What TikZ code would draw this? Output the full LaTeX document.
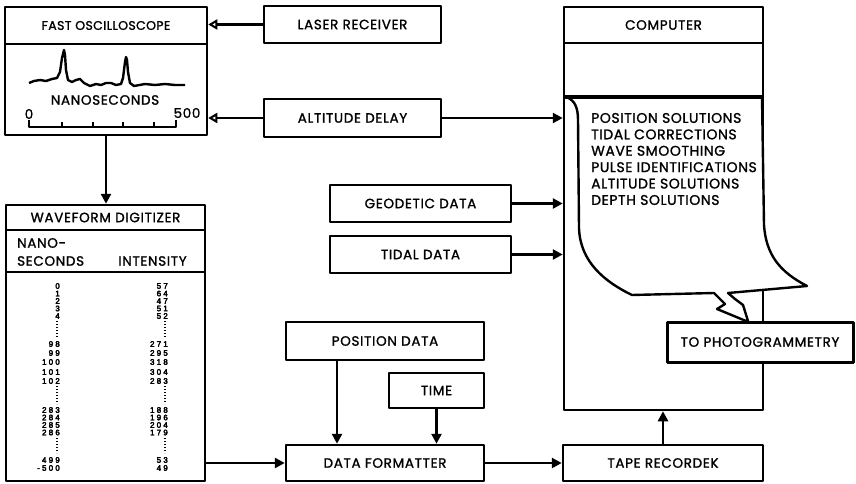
\documentclass[tikz,border=0pt]{standalone}
\usepackage{fontspec}
\setmainfont{Poppins}[FakeBold=1.3]
\newfontfamily\digfont{Liberation Sans}[FakeBold=4]
\newcommand\dd{\kern2.2pt}
\usetikzlibrary{arrows.meta}
\begin{document}
\begin{tikzpicture}[x=1pt,y=-1pt,line join=round,
  lblfont/.style={font=\fontsize{13.5}{16}\selectfont\addfontfeature{LetterSpace=5}},
  box/.style={draw,line width=2.5pt,fill=white,inner sep=0pt,lblfont},
  plain/.style={inner sep=0pt,lblfont},
  dig/.style={inner sep=0pt,anchor=east,font=\digfont\fontsize{8}{8}\selectfont},
  arr/.style={line width=2.6pt,-{Triangle[length=10pt,width=10pt]}},
  oarr/.style={line width=2.6pt,-{Triangle[open,length=9pt,width=10pt,line width=2pt]}},
  dotcol/.style={line width=2pt,dash pattern=on 1.2pt off 1.8pt}
]
\useasboundingbox (0,0) rectangle (856,484);

% oscilloscope
\node[box,minimum width=202pt,minimum height=37pt,font=\fontsize{12.5}{14}\selectfont\addfontfeature{LetterSpace=3}] (oschead) at (106,25.5) {FAST OSCILLOSCOPE};
\node[box,minimum width=202pt,minimum height=91pt] (oscbody) at (106,89.5) {};
\draw[line width=2.4pt] (29,83) -- (34,81) -- (40,80) -- (46,81) -- (52,79) -- (57,78) -- (60,72)
  -- (62,58) -- (64,50) -- (65,55) -- (66,70) -- (68,80) -- (72,82) -- (76,80) -- (80,79)
  -- (84,83) -- (90,86) -- (96,84) -- (101,85) -- (106,83) -- (111,83) -- (116,85) -- (121,84)
  -- (123,78) -- (125,62) -- (126,57) -- (127,60) -- (128,72) -- (130,83) -- (134,86)
  -- (145,84) -- (155,85) -- (165,84) -- (175,85) -- (185,85);
\node[plain] (nanolbl) at (105,100) {NANOSECONDS};
\node[plain] (zero) at (29,114) {0};
\node[plain] (fivehundred) at (187,113) {500};
\draw[line width=2.4pt] (29,120) -- (29,127) -- (176,127) -- (176,120);
\foreach \tx in {62,93,123,154} { \draw[line width=2.4pt] (\tx,127) -- (\tx,122); }

% laser receiver & altitude delay
\node[box,minimum width=177pt,minimum height=37pt] (laser) at (352.5,24.5) {LASER RECEIVER};
\node[box,minimum width=177pt,minimum height=38pt] (alt) at (352.5,118) {ALTITUDE DELAY};

% computer
\node[box,minimum width=199pt,minimum height=36pt] (comphead) at (663.5,25) {COMPUTER};
\node[box,minimum width=199pt,minimum height=367pt] (compbody) at (663.5,226.5) {};

% paper
\draw[line width=2.4pt,fill=white] (566,97) .. controls (575,100) and (578,108) .. (578,120)
  -- (579,228) .. controls (580,262) and (605,282) .. (632,295) -- (714,293) -- (725,304)
  -- (717,309) -- (746,321) -- (748,321) -- (743,305) -- (735,299) -- (728,293) -- (807,286)
  .. controls (780,272) and (766,255) .. (764,225) -- (762,97) -- cycle;
\draw[line width=3.5pt] (564,97) -- (763,97);
\node[inner sep=0pt,anchor=west,align=left,font=\fontsize{14}{16.4}\selectfont\addfontfeature{LetterSpace=4}] (ptext) at (591,159)
  {POSITION SOLUTIONS\\TIDAL CORRECTIONS\\WAVE SMOOTHING\\PULSE IDENTIFICATIONS\\ALTITUDE SOLUTIONS\\DEPTH SOLUTIONS};
\node[box,line width=3pt,minimum width=186pt,minimum height=40pt] (photo) at (760,342) {TO PHOTOGRAMMETRY};

% waveform digitizer
\node[box,minimum width=199pt,minimum height=25pt] (dighead) at (105.5,217.5) {WAVEFORM DIGITIZER};
\node[box,minimum width=199pt,minimum height=42pt] (digcols) at (105.5,251) {};
\node[box,minimum width=199pt,minimum height=209pt] (digbody) at (105.5,376.5) {};
\node[plain,anchor=west] (nano) at (17,243) {NANO-};
\node[plain,anchor=west] (secs) at (17,261) {SECONDS};
\node[plain] (inten) at (152.5,261) {INTENSITY};
\foreach \y/\a/\b in {286/0/{5\dd7},293.5/1/{6\dd4},301/2/{4\dd7},308.5/3/{5\dd1},316/4/{5\dd2},
    344/{9\dd8}/{2\dd7\dd1},353/{9\dd9}/{2\dd9\dd5},362/{1\dd0\dd0}/{3\dd1\dd8},372/{1\dd0\dd1}/{3\dd0\dd4},381/{1\dd0\dd2}/{2\dd8\dd3},
    410/{2\dd8\dd3}/{1\dd8\dd8},417.5/{2\dd8\dd4}/{1\dd9\dd6},425/{2\dd8\dd5}/{2\dd0\dd4},432.5/{2\dd8\dd6}/{1\dd7\dd9},
    460/{4\dd9\dd9}/{5\dd3},468/{-\dd5\dd0\dd0}/{4\dd9}}
  { \node[dig] (n\y) at (60,\y) {\a}; \node[dig] (i\y) at (168,\y) {\b}; }
\foreach \ya/\yb in {321/338,386/404,438/453}
  { \draw[dotcol] (57,\ya) -- (57,\yb); \draw[dotcol] (165,\ya) -- (165,\yb); }

% data boxes
\node[box,minimum width=181pt,minimum height=37pt] (geo) at (420.5,203.5) {GEODETIC DATA};
\node[box,minimum width=181pt,minimum height=37pt] (tidal) at (420.5,254.5) {TIDAL DATA};
\node[box,minimum width=198pt,minimum height=38pt] (pos) at (385,341) {POSITION DATA};
\node[box,minimum width=95pt,minimum height=35pt] (time) at (436.5,390.5) {TIME};
\node[box,minimum width=198pt,minimum height=36pt] (fmt) at (385,463) {DATA FORMATTER};
\node[box,minimum width=200pt,minimum height=36pt] (tape) at (663,463) {TAPE RECORDEK};

% connectors
\draw[oarr] (laser.west) -- (laser.west -| oschead.east);
\draw[oarr] (alt.west) -- (alt.west -| oscbody.east);
\draw[arr] (alt.east) -- (alt.east -| compbody.west);
\draw[arr] (oscbody.south) -- (oscbody.south |- dighead.north);
\draw[arr] (geo.east) -- (geo.east -| compbody.west);
\draw[arr] (tidal.east) -- (tidal.east -| compbody.west);
\draw[arr] (fmt.west -| digbody.east) -- (fmt.west);
\draw[arr] ([xshift=-48pt]pos.south) -- ([xshift=-48pt]pos.south |- fmt.north);
\draw[arr] (time.south) -- (time.south |- fmt.north);
\draw[arr] (fmt.east) -- (tape.west);
\draw[arr] (tape.north) -- (tape.north |- compbody.south);
\end{tikzpicture}
\end{document}
